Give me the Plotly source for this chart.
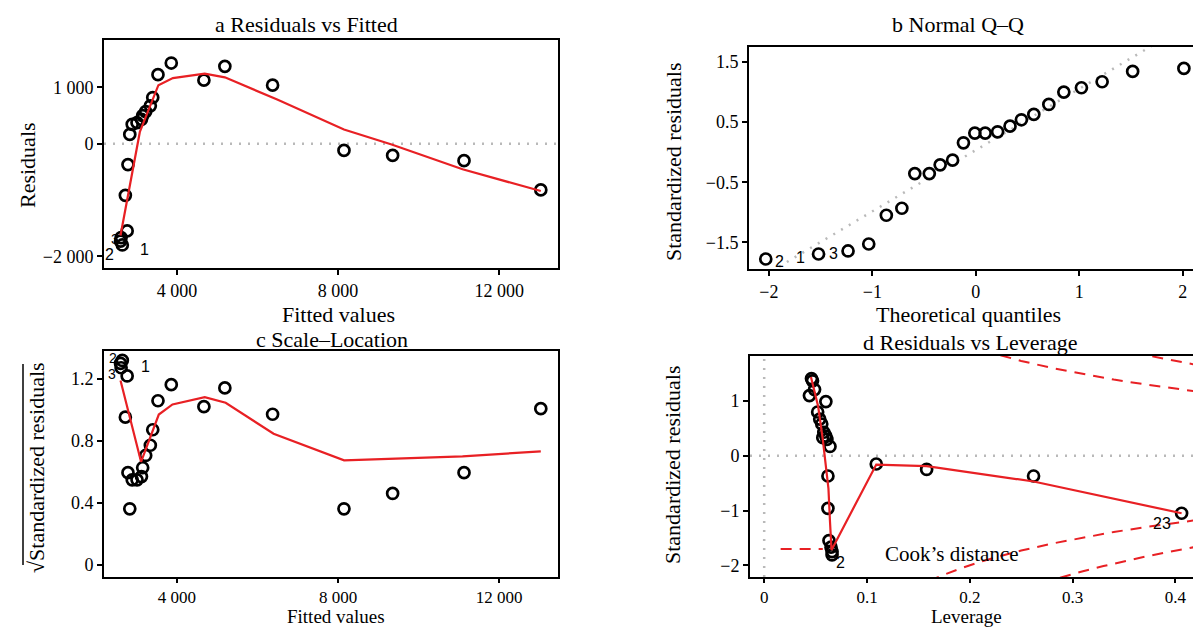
import plotly.graph_objects as go

W, H = 1201, 627

# ---------------- data ----------------
# Panels a & c : fitted values, residuals, sqrt(|standardized residuals|)
fitted = [2600, 2615, 2645, 2720, 2765, 2785, 2830, 2890, 3010, 3120, 3150, 3225,
          3340, 3400, 3530, 3860, 4670, 5190, 6375, 8147, 9355, 11127, 13033]
residuals = [-1730, -1666, -1798, -916, -1548, -370, 166, 345, 375, 434, 500, 571,
             673, 821, 1227, 1434, 1130, 1375, 1041, -118, -207, -300, -820]
sqrt_std_resid = [1.30, 1.272, 1.319, 0.953, 1.219, 0.595, 0.362, 0.549, 0.549, 0.57, 0.627, 0.706,
                  0.772, 0.872, 1.059, 1.163, 1.021, 1.142, 0.972, 0.362, 0.461, 0.595, 1.008]

a_smooth_x = [2600, 3080, 3540, 3900, 4690, 5190, 6490, 8147, 9330, 11091, 13033]
a_smooth_y = [-1630, 210, 1040, 1166, 1245, 1180, 785, 254, -12, -454, -840]

c_smooth_x = [2600, 3110, 3550, 3890, 4690, 5210, 6400, 8150, 11090, 13033]
c_smooth_y = [1.19, 0.665, 0.97, 1.035, 1.082, 1.046, 0.846, 0.675, 0.70, 0.733]

# Panel b : normal Q-Q
qq_theoretical = [-2.03, -1.52, -1.235, -1.035, -0.865, -0.715, -0.59, -0.45, -0.345, -0.225, -0.12, -0.01,
                  0.09, 0.21, 0.33, 0.44, 0.56, 0.705, 0.85, 1.02, 1.22, 1.515, 2.01]
qq_sample = [-1.778, -1.694, -1.644, -1.528, -1.05, -0.933, -0.356, -0.356, -0.211, -0.133, 0.156, 0.317,
             0.317, 0.339, 0.433, 0.539, 0.628, 0.794, 1.0, 1.072, 1.172, 1.344, 1.394]
qq_line_x = [-2.2, 2.2]
qq_line_y = [-2.209, 2.279]

# Panel d : residuals vs leverage
leverage = [0.046, 0.047, 0.049, 0.044, 0.060, 0.052, 0.054, 0.056, 0.058, 0.060, 0.057, 0.061,
            0.064, 0.062, 0.062, 0.063, 0.065, 0.066, 0.066, 0.109, 0.158, 0.262, 0.406]
d_std_resid = [1.41, 1.37, 1.21, 1.10, 0.99, 0.80, 0.67, 0.58, 0.43, 0.36, 0.33, 0.30,
               0.17, -0.37, -0.96, -1.55, -1.67, -1.75, -1.81, -0.15, -0.25, -0.37, -1.05]
d_smooth_x = [0.0455, 0.0525, 0.057, 0.060, 0.0625, 0.064, 0.0655, 0.109, 0.158, 0.262, 0.406]
d_smooth_y = [1.44, 0.90, 0.30, -0.20, -0.60, -1.20, -1.72, -0.16, -0.19, -0.47, -1.05]

# Cook's distance contours (levels 0.5 and 1)
cook05_h = [0.16, 0.17, 0.19, 0.21, 0.23, 0.25, 0.28, 0.31, 0.34, 0.37, 0.40, 0.43]
cook05_up = [2.291, 2.210, 2.065, 1.940, 1.830, 1.732, 1.604, 1.492, 1.393, 1.305, 1.225, 1.151]
cook05_lo = [-2.291, -2.210, -2.065, -1.940, -1.830, -1.732, -1.604, -1.492, -1.393, -1.305, -1.225, -1.151]
cook1_h = [0.27, 0.29, 0.31, 0.33, 0.35, 0.37, 0.39, 0.41, 0.43]
cook1_up = [2.325, 2.213, 2.110, 2.015, 1.927, 1.845, 1.769, 1.696, 1.628]
cook1_lo = [-2.325, -2.213, -2.110, -2.015, -1.927, -1.845, -1.769, -1.696, -1.628]
cook_legend_x = [0.016, 0.057]
cook_legend_y = [-1.705, -1.705]

# Tick labels
a_xticks, a_xtext = [4000, 8000, 12000], ["4 000", "8 000", "12 000"]
a_yticks, a_ytext = [-2000, 0, 1000], ["\u22122 000", "0", "1 000"]
b_xticks, b_xtext = [-2, -1, 0, 1, 2], ["\u22122", "\u22121", "0", "1", "2"]
b_yticks, b_ytext = [-1.5, -0.5, 0.5, 1.5], ["\u22121.5", "\u22120.5", "0.5", "1.5"]
c_yticks, c_ytext = [0, 0.4, 0.8, 1.2], ["0", "0.4", "0.8", "1.2"]
d_xticks, d_xtext = [0, 0.1, 0.2, 0.3, 0.4], ["0", "0.1", "0.2", "0.3", "0.4"]
d_yticks, d_ytext = [-2, -1, 0, 1], ["\u22122", "\u22121", "0", "1"]

# ---------------- styling ----------------
SERIF = "Liberation Serif"
SANS = "Liberation Sans"
RED = "rgb(232,32,36)"
GREY = "rgb(185,185,185)"
TITLE_SIZE = 22
TICK_SIZE = 18


def dom_x(a, b):
    return [a / W, b / W]


def dom_y(top, bottom):
    return [1 - bottom / H, 1 - top / H]


def axis(rng, vals, text, domain, anchor, ticklen=5, size=TICK_SIZE):
    return dict(range=rng, domain=domain, anchor=anchor, tickmode="array",
                tickvals=vals, ticktext=text, showline=True, mirror=True,
                linecolor="black", linewidth=2, ticks="outside", ticklen=ticklen,
                tickwidth=1.5, tickcolor="black", showgrid=False, zeroline=False,
                tickfont=dict(family=SERIF, size=size, color="black"))


def pts(x, y, xa, ya):
    return go.Scatter(x=x, y=y, mode="markers", xaxis=xa, yaxis=ya, showlegend=False,
                      marker=dict(symbol="circle-open", size=11, color="black",
                                  line=dict(width=2.7, color="black")))


def line(x, y, xa, ya, color=RED, width=2.2, dash="solid"):
    return go.Scatter(x=x, y=y, mode="lines", xaxis=xa, yaxis=ya, showlegend=False,
                      line=dict(color=color, width=width, dash=dash))


fig = go.Figure()

# reference line of the Q-Q plot (beneath the points)
fig.add_trace(line(qq_line_x, qq_line_y, "x2", "y2", color=GREY, width=2.5, dash="2px,7px"))

# panel a
fig.add_trace(pts(fitted, residuals, "x", "y"))
fig.add_trace(line(a_smooth_x, a_smooth_y, "x", "y"))
# panel b
fig.add_trace(pts(qq_theoretical, qq_sample, "x2", "y2"))
# panel c
fig.add_trace(pts(fitted, sqrt_std_resid, "x3", "y3"))
fig.add_trace(line(c_smooth_x, c_smooth_y, "x3", "y3"))
# panel d
for hx, hy in [(cook05_h, cook05_up), (cook05_h, cook05_lo), (cook1_h, cook1_up), (cook1_h, cook1_lo)]:
    fig.add_trace(line(hx, hy, "x4", "y4", width=2, dash="11px,8px"))
fig.add_trace(line(cook_legend_x, cook_legend_y, "x4", "y4", width=2, dash="11px,8px"))
fig.add_trace(pts(leverage, d_std_resid, "x4", "y4"))
fig.add_trace(line(d_smooth_x, d_smooth_y, "x4", "y4"))

shapes = [
    dict(type="line", xref="x domain", yref="y", x0=0, x1=1, y0=0, y1=0,
         line=dict(color=GREY, width=2.5, dash="2px,7px"), layer="below"),
    dict(type="line", xref="x4 domain", yref="y4", x0=0, x1=1, y0=0, y1=0,
         line=dict(color=GREY, width=2.5, dash="2px,7px"), layer="below"),
    dict(type="line", xref="x4", yref="y4 domain", x0=0, x1=0, y0=0, y1=1,
         line=dict(color=GREY, width=2.5, dash="2px,7px"), layer="below"),
    # vinculum of the square-root sign in panel c's axis title
    dict(type="line", xref="paper", yref="paper", x0=15 / W, x1=15 / W,
         y0=1 - 557 / H, y1=1 - 356 / H, line=dict(color="black", width=1.5)),
]

ann = []


def txt(x, y, s, size=TITLE_SIZE, angle=0, family=SERIF, xanchor="center"):
    ann.append(dict(x=x / W, y=1 - y / H, xref="paper", yref="paper", text=s, showarrow=False,
                    textangle=angle, xanchor=xanchor, yanchor="middle", borderpad=0,
                    font=dict(family=family, size=size, color="black")))


# titles
txt(298, 17, "a Residuals vs Fitted")
txt(950, 17, "b Normal Q\u2013Q")
txt(324, 331, "c Scale\u2013Location")
txt(962, 334, "d Residuals vs Leverage")
# axis titles
txt(330, 306, "Fitted values")
txt(19, 157, "Residuals", angle=-90)
txt(960, 307, "Theoretical quantiles")
txt(665, 154, "Standardized residuals", angle=-90)
txt(328, 608, "Fitted values", size=19)
txt(28, 460, "\u221aStandardized residuals", angle=-90)
txt(958, 608, "Leverage", size=19)
txt(665, 457, "Standardized residuals", angle=-90)


def plabel(xa, ya, x, y, s, dx, dy, size=16):
    ann.append(dict(x=x, y=y, xref=xa, yref=ya, text=s, showarrow=False, xshift=dx, yshift=dy,
                    borderpad=0, font=dict(family=SANS, size=size, color="black")))


# point labels (ids of the extreme points)
plabel("x", "y", fitted[2], residuals[2], "1", 22, -5)
plabel("x", "y", fitted[0], residuals[0], "2", -11, -13)
plabel("x", "y", fitted[1], residuals[1], "3", -6, -1, size=14)
plabel("x2", "y2", qq_theoretical[0], qq_sample[0], "2", 14, -2)
plabel("x2", "y2", qq_theoretical[1], qq_sample[1], "1", -18, -4)
plabel("x2", "y2", qq_theoretical[1], qq_sample[1], "3", 15, 0)
plabel("x3", "y3", fitted[2], sqrt_std_resid[2], "1", 23, -6)
plabel("x3", "y3", fitted[0], sqrt_std_resid[0], "2", -8, 5, size=14)
plabel("x3", "y3", fitted[1], sqrt_std_resid[1], "3", -9, -6, size=14)
plabel("x4", "y4", leverage[22], d_std_resid[22], "23", -20, -10)
plabel("x4", "y4", leverage[18], d_std_resid[18], "2", 8, -8)

ann.append(dict(x=0.1164, y=-1.796, xref="x4", yref="y4", text="Cook\u2019s distance", showarrow=False,
                xanchor="left", borderpad=0, font=dict(family=SERIF, size=21, color="black")))

fig.update_layout(
    width=W, height=H, margin=dict(l=0, r=0, t=0, b=0),
    paper_bgcolor="white", plot_bgcolor="white", showlegend=False,
    xaxis=axis([2190, 13460], a_xticks, a_xtext, dom_x(96, 550), "y"),
    yaxis=axis([-2207, 1843], a_yticks, a_ytext, dom_y(32, 260), "x"),
    xaxis2=axis([-2.192, 2.185], b_xticks, b_xtext, dom_x(741, 1194), "y2"),
    yaxis2=axis([-1.944, 1.75], b_yticks, b_ytext, dom_y(39, 261), "x2"),
    xaxis3=axis([2190, 13460], a_xticks, a_xtext, dom_x(96, 550), "y3", ticklen=4, size=17),
    yaxis3=axis([-0.078, 1.38], c_yticks, c_ytext, dom_y(343, 569), "x3"),
    xaxis4=axis([-0.0138, 0.4268], d_xticks, d_xtext, dom_x(742, 1195), "y4", ticklen=4, size=17),
    yaxis4=axis([-2.215, 1.823], d_yticks, d_ytext, dom_y(348, 569), "x4"),
    shapes=shapes, annotations=ann,
)

fig.write_html("out.html")
